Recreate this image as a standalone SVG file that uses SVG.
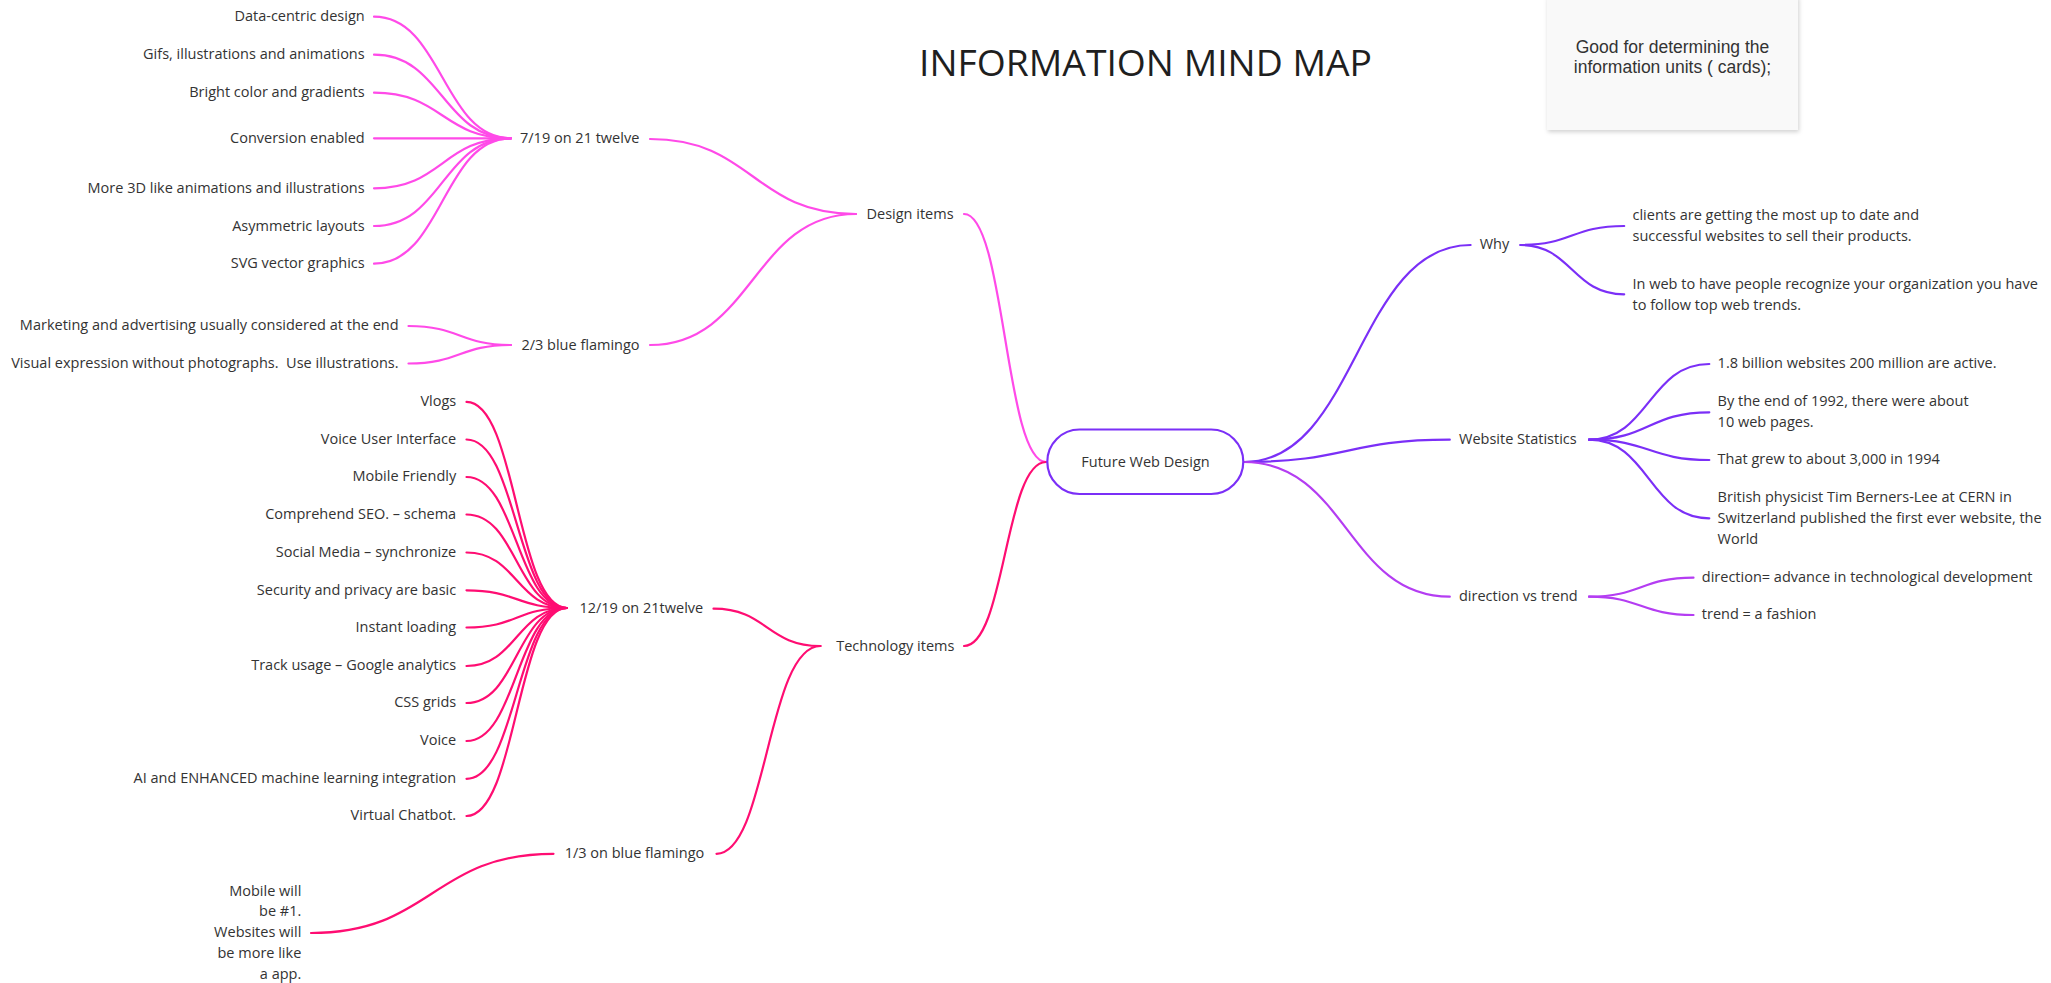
<svg xmlns="http://www.w3.org/2000/svg" width="2051" height="983" viewBox="0 0 2051 983">
<defs>
<filter id="sh" x="-10%" y="-10%" width="120%" height="130%">
<feDropShadow dx="1" dy="2" stdDeviation="2" flood-color="#000" flood-opacity="0.18"/>
</filter>
</defs>
<style>
text{font-family:"Open Sans","Noto Sans","DejaVu Sans",sans-serif;font-size:14.5px;fill:#333}
.e{text-anchor:end}
.m{text-anchor:middle}
.c path{fill:none;stroke-width:2.2;stroke-linecap:round}
.pk path{stroke:#ff4ae8}
.rd path{stroke:#ff0d72}
.pu path{stroke:#7b2ff7}
.vi path{stroke:#b43df2}
.note{font-family:"Liberation Sans",Arial,sans-serif;font-size:17.5px;fill:#333;text-anchor:middle}
.title{font-size:37px;fill:#1f1f1f}
</style>
<rect width="2051" height="983" fill="#fff"/>

<g id="connectors" class="c">
<g class="pk">
<path d="M1046,462 C1005,462 1005,214 964,214"/>
<path d="M856,214 C753,214 753,139 650,139"/>
<path d="M856,214 C753,214 753,345 650,345"/>
<path d="M511,138.3 C442.5,138.3 442.5,16.7 374,16.7"/>
<path d="M511,138.3 C442.5,138.3 442.5,54.7 374,54.7"/>
<path d="M511,138.3 C442.5,138.3 442.5,92.7 374,92.7"/>
<path d="M511,138.3 L374,138.3"/>
<path d="M511,138.3 C442.5,138.3 442.5,188.3 374,188.3"/>
<path d="M511,138.3 C442.5,138.3 442.5,226 374,226"/>
<path d="M511,138.3 C442.5,138.3 442.5,263.7 374,263.7"/>
<path d="M511,345 C459.7,345 459.7,326 408.5,326"/>
<path d="M511,345 C459.7,345 459.7,363.5 408.5,363.5"/>
</g>
<g class="rd">
<path d="M1046,462 C1005,462 1005,646 964,646"/>
<path d="M820.5,646 C767,646 767,608.7 713.5,608.7"/>
<path d="M820.5,646 C767,646 767,853.8 716.5,853.8"/>
<path d="M567,608 C516.7,608 516.7,401.9 466.5,401.9"/>
<path d="M567,608 C516.7,608 516.7,439.5 466.5,439.5"/>
<path d="M567,608 C516.7,608 516.7,477 466.5,477"/>
<path d="M567,608 C516.7,608 516.7,514.5 466.5,514.5"/>
<path d="M567,608 C516.7,608 516.7,552.5 466.5,552.5"/>
<path d="M567,608 C516.7,608 516.7,590.3 466.5,590.3"/>
<path d="M567,608 C516.7,608 516.7,627.5 466.5,627.5"/>
<path d="M567,608 C516.7,608 516.7,666 466.5,666"/>
<path d="M567,608 C516.7,608 516.7,703 466.5,703"/>
<path d="M567,608 C516.7,608 516.7,741 466.5,741"/>
<path d="M567,608 C516.7,608 516.7,778.8 466.5,778.8"/>
<path d="M567,608 C516.7,608 516.7,816 466.5,816"/>
<path d="M553.5,853.8 C432,853.8 432,933 311,933"/>
</g>
<g class="pu">
<path d="M1244,462 C1357,462 1357,245 1470.6,245"/>
<path d="M1244,462 C1347,462 1347,439.7 1449.8,439.7"/>
<path d="M1520.4,245 C1572,245 1572,226 1624.2,226"/>
<path d="M1520.4,245 C1572,245 1572,294.3 1624.2,294.3"/>
<path d="M1589,439.7 C1649,439.7 1649,364 1709.3,364"/>
<path d="M1589,439.7 C1649,439.7 1649,412.3 1709.3,412.3"/>
<path d="M1589,439.7 C1649,439.7 1649,460 1709.3,460"/>
<path d="M1589,439.7 C1649,439.7 1649,518.3 1709.3,518.3"/>
</g>
<g class="vi">
<path d="M1244,462 C1347,462 1347,596.7 1449.8,596.7"/>
<path d="M1589,596.7 C1641,596.7 1641,577.7 1693.5,577.7"/>
<path d="M1589,596.7 C1641,596.7 1641,615 1693.5,615"/>
</g>
</g>

<g id="title"><text class="title" x="919" y="76" textLength="453" lengthAdjust="spacingAndGlyphs">INFORMATION MIND MAP</text></g>

<g id="note">
<rect x="1547" y="-4" width="251" height="134" fill="#f9f9f9" filter="url(#sh)"/>
<text class="note" x="1672.5" y="53.3">Good for determining the</text>
<text class="note" x="1672.5" y="73.3">information units ( cards);</text>
</g>

<g id="center">
<rect x="1047.3" y="429.5" width="196" height="64.5" rx="32.2" fill="#fff" stroke="#7b2ff7" stroke-width="2.2"/>
<text class="m" x="1145.5" y="466.7">Future Web Design</text>
</g>

<g id="design-items"><text x="866.5" y="218.5">Design items</text></g>
<g id="n-7-19"><text x="520" y="143.3">7/19 on 21 twelve</text></g>
<g id="d1"><text class="e" x="364.7" y="21">Data-centric design</text></g>
<g id="d2"><text class="e" x="364.7" y="59">Gifs, illustrations and animations</text></g>
<g id="d3"><text class="e" x="364.7" y="97.3">Bright color and gradients</text></g>
<g id="d4"><text class="e" x="364.7" y="142.7">Conversion enabled</text></g>
<g id="d5"><text class="e" x="364.7" y="193">More 3D like animations and illustrations</text></g>
<g id="d6"><text class="e" x="364.7" y="230.7">Asymmetric layouts</text></g>
<g id="d7"><text class="e" x="364.7" y="268.3">SVG vector graphics</text></g>
<g id="n-2-3"><text x="521.4" y="350">2/3 blue flamingo</text></g>
<g id="m1"><text class="e" x="398.6" y="330">Marketing and advertising usually considered at the end</text></g>
<g id="m2"><text class="e" x="398.6" y="368.3">Visual expression without photographs.&#160; Use illustrations.</text></g>

<g id="technology-items"><text x="836.2" y="651">Technology items</text></g>
<g id="n-12-19"><text x="579.4" y="613">12/19 on 21twelve</text></g>
<g id="t1"><text class="e" x="456.2" y="406.2">Vlogs</text></g>
<g id="t2"><text class="e" x="456.2" y="443.8">Voice User Interface</text></g>
<g id="t3"><text class="e" x="456.2" y="481.2">Mobile Friendly</text></g>
<g id="t4"><text class="e" x="456.2" y="518.8">Comprehend SEO. – schema</text></g>
<g id="t5"><text class="e" x="456.2" y="556.9">Social Media – synchronize</text></g>
<g id="t6"><text class="e" x="456.2" y="594.6">Security and privacy are basic</text></g>
<g id="t7"><text class="e" x="456.2" y="631.9">Instant loading</text></g>
<g id="t8"><text class="e" x="456.2" y="670.4">Track usage – Google analytics</text></g>
<g id="t9"><text class="e" x="456.2" y="707.3">CSS grids</text></g>
<g id="t10"><text class="e" x="456.2" y="745.4">Voice</text></g>
<g id="t11"><text class="e" x="456.2" y="783.1">AI and ENHANCED machine learning integration</text></g>
<g id="t12"><text class="e" x="456.2" y="820.4">Virtual Chatbot.</text></g>
<g id="n-1-3"><text x="564.7" y="858">1/3 on blue flamingo</text></g>
<g id="mobile"><text class="e" x="301.3" y="895.7">Mobile will</text><text class="e" x="301.3" y="916.1">be #1.</text><text class="e" x="301.3" y="936.9">Websites will</text><text class="e" x="301.3" y="958.1">be more like</text><text class="e" x="301.3" y="979.2">a app.</text></g>

<g id="why"><text x="1479.7" y="249.3">Why</text></g>
<g id="w1"><text x="1632.5" y="220">clients are getting the most up to date and</text><text x="1632.5" y="240.7">successful websites to sell their products.</text></g>
<g id="w2"><text x="1632.5" y="289.3">In web to have people recognize your organization you have</text><text x="1632.5" y="310">to follow top web trends.</text></g>

<g id="website-statistics"><text x="1459" y="444">Website Statistics</text></g>
<g id="s1"><text x="1717.6" y="367.7">1.8 billion websites 200 million are active.</text></g>
<g id="s2"><text x="1717.6" y="406">By the end of 1992, there were about</text><text x="1717.6" y="427">10 web pages.</text></g>
<g id="s3"><text x="1717.6" y="464">That grew to about 3,000 in 1994</text></g>
<g id="s4"><text x="1717.6" y="501.7">British physicist Tim Berners-Lee at CERN in</text><text x="1717.6" y="522.7">Switzerland published the first ever website, the</text><text x="1717.6" y="543.7">World</text></g>

<g id="direction-vs-trend"><text x="1459" y="601">direction vs trend</text></g>
<g id="v1"><text x="1701.8" y="581.7">direction= advance in technological development</text></g>
<g id="v2"><text x="1701.8" y="619">trend = a fashion</text></g>
</svg>
